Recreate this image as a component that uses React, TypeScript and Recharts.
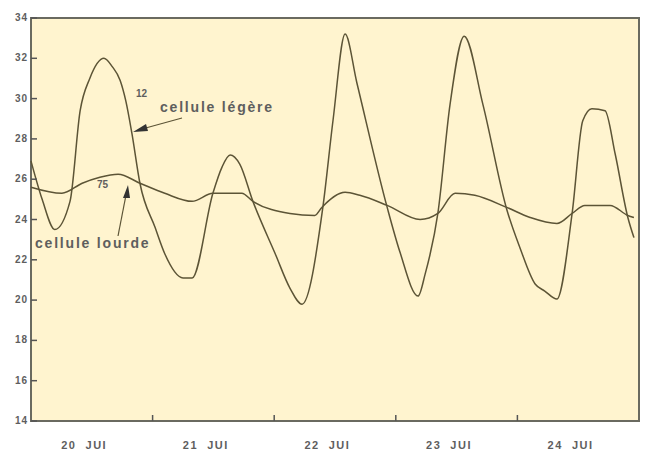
import React from 'react';
import { LineChart, Line, XAxis, YAxis, ReferenceArea } from 'recharts';

// Light cell (cellule légère): hours since 20 Jul 00:00, temperature °C
const lightHours = [0, 2.2, 4.7, 7.7, 9.7, 11.6, 14.4, 16.0, 17.6, 18.7, 19.9, 21.5, 24.5, 26.4, 30.0, 31.8, 35.9, 37.7, 39.3, 41.2, 43.8, 48.2, 51.1, 53.5, 57.6, 59.6, 62.0, 64.3, 70.3, 72.8, 76.4, 77.8, 80.3, 82.7, 85.5, 89.2, 93.9, 96.5, 99.5, 101.4, 103.8, 106.8, 108.9, 110.7, 113.3, 115.3, 117.8, 119.0];
const lightTemps = [26.9, 25.0, 23.5, 24.9, 29.4, 31.0, 32.0, 31.6, 30.9, 29.9, 28.3, 25.8, 23.6, 22.3, 21.1, 21.1, 25.3, 26.6, 27.2, 26.75, 24.9, 22.3, 20.6, 19.8, 24.6, 28.9, 33.2, 30.8, 24.6, 22.4, 20.2, 21.3, 24.3, 29.7, 33.1, 29.7, 24.5, 22.6, 20.8, 20.45, 20.05, 24.3, 28.9, 29.5, 29.4, 27.25, 24.1, 23.1];

// Heavy cell (cellule lourde)
const heavyHours = [0, 6.1, 10.1, 13.6, 17.2, 21.5, 26.4, 31.8, 35.9, 41.6, 43.8, 51.1, 56.0, 57.4, 62.0, 64.9, 70.3, 76.8, 80.3, 83.7, 87.6, 93.9, 98.5, 103.8, 106.8, 109.3, 114.3, 117.8, 119.0];
const heavyTemps = [25.6, 25.3, 25.8, 26.1, 26.25, 25.8, 25.3, 24.9, 25.3, 25.3, 24.9, 24.3, 24.2, 24.6, 25.35, 25.2, 24.7, 24.0, 24.3, 25.3, 25.2, 24.6, 24.1, 23.8, 24.3, 24.7, 24.7, 24.2, 24.1];

const dayLabels = ['20  JUI', '21  JUI', '22  JUI', '23  JUI', '24  JUI'];
const dayStarts = [0, 24, 48, 72, 96, 120];
const yTicks = [14, 16, 18, 20, 22, 24, 26, 28, 30, 32, 34];

const lightData = lightHours.map((h, i) => ({ h, t: lightTemps[i] }));
const heavyData = heavyHours.map((h, i) => ({ h, t: heavyTemps[i] }));

const labelOffset = 10.5;
const labelPositions = dayLabels.map((_, i) => i * 24 + labelOffset);
const xTicks = [...dayStarts, ...labelPositions].sort((a, b) => a - b);

const INK = '#5c5436';
const TEXT = '#5e5e5e';
const FONT = '"Liberation Sans", Arial, sans-serif';

const YTick = (props: any) => {
  const { x, y, payload } = props;
  return (
    <g>
      <line x1={x} x2={x + 6} y1={y} y2={y} stroke="#555" strokeWidth={1.5} />
      <text x={x - 3} y={y} dy={3} textAnchor="end" fontSize={10} fontWeight="bold" letterSpacing={1} fill={TEXT} fontFamily={FONT}>
        {payload.value}
      </text>
    </g>
  );
};

const XTick = (props: any) => {
  const { x, y, payload } = props;
  const v = payload.value;
  const dayIdx = labelPositions.indexOf(v);
  if (dayIdx >= 0) {
    return (
      <text x={x} y={y + 28} textAnchor="middle" fontSize={11} fontWeight="bold" letterSpacing={1.5} fill={TEXT} fontFamily={FONT} style={{ whiteSpace: 'pre' }}>
        {dayLabels[dayIdx]}
      </text>
    );
  }
  if (v === 0 || v === 120) return <g />;
  return <line x1={x} x2={x} y1={y} y2={y - 6} stroke="#555" strokeWidth={1.5} />;
};

export default function App() {
  return (
    <div style={{ position: 'absolute', left: 0, top: 0, width: 645, height: 453, background: '#fff' }}>
      <LineChart width={645} height={453} margin={{ top: 18, right: 6, left: 0, bottom: 0 }}>
        <ReferenceArea x1={0} x2={120} y1={14} y2={34} fill="#FFF4CF" fillOpacity={1} stroke="#6a6a60" strokeWidth={2} ifOverflow="visible" />
        <XAxis
          dataKey="h"
          type="number"
          domain={[0, 120]}
          ticks={xTicks}
          interval={0}
          tick={<XTick />}
          tickLine={false}
          axisLine={false}
          tickSize={0}
          tickMargin={0}
          height={32}
          allowDuplicatedCategory={false}
        />
        <YAxis
          type="number"
          domain={[14, 34]}
          ticks={yTicks}
          interval={0}
          tick={<YTick />}
          tickLine={false}
          axisLine={false}
          tickSize={0}
          tickMargin={0}
          width={31}
        />
        <Line data={lightData} dataKey="t" type="monotone" stroke={INK} strokeWidth={1.5} dot={false} isAnimationActive={false} />
        <Line data={heavyData} dataKey="t" type="monotone" stroke={INK} strokeWidth={1.5} dot={false} isAnimationActive={false} />
      </LineChart>
      <svg width={645} height={453} style={{ position: 'absolute', left: 0, top: 0, pointerEvents: 'none' }}>
        <text x={160} y={112} fontSize={14} fontWeight="bold" letterSpacing={1.8} fill={TEXT} fontFamily={FONT}>cellule légère</text>
        <line x1={182} y1={118} x2={142} y2={129} stroke={INK} strokeWidth={1.2} />
        <polygon points="133,132 146,124 148,131" fill="#333" />
        <text x={136} y={97} fontSize={10} fontWeight="bold" fill={TEXT} fontFamily={FONT}>12</text>
        <text x={35} y={248} fontSize={14} fontWeight="bold" letterSpacing={1.8} fill={TEXT} fontFamily={FONT}>cellule lourde</text>
        <line x1={118} y1={236} x2={126} y2={195} stroke={INK} strokeWidth={1.2} />
        <polygon points="128,185 123,198 130,198" fill="#333" />
        <text x={97} y={188} fontSize={10} fontWeight="bold" fill={TEXT} fontFamily={FONT}>75</text>
      </svg>
    </div>
  );
}
